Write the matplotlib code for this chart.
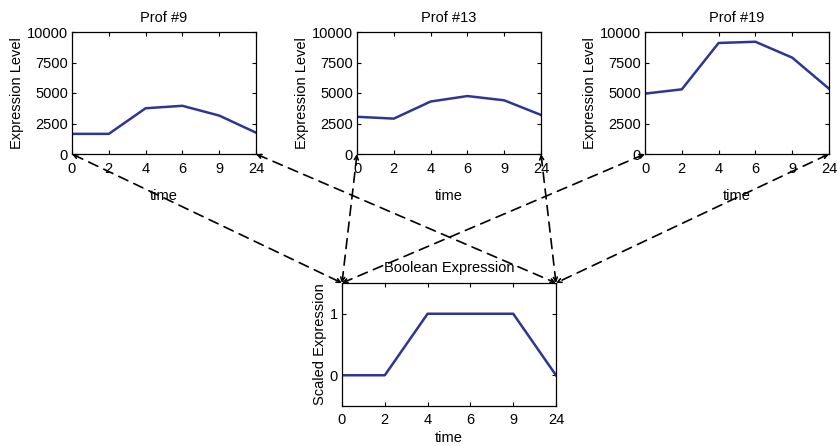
import matplotlib
matplotlib.use("Agg")
import matplotlib.pyplot as plt
from matplotlib.patches import ConnectionPatch

plt.rcParams['font.family'] = ['Liberation Sans', 'DejaVu Sans']

time_labels = ["0", "2", "4", "6", "9", "24"]
prof9 = [1650, 1650, 3750, 3950, 3150, 1750]
prof13 = [3050, 2900, 4300, 4750, 4400, 3200]
prof19 = [4950, 5300, 9100, 9200, 7900, 5350]
boolean = [0, 0, 1, 1, 1, 0]

titles = ["Prof #9", "Prof #13", "Prof #19"]
profiles = [prof9, prof13, prof19]
expr_ticks = [0, 2500, 5000, 7500, 10000]

W, H = 840, 446
LINE = "#2E3592"
FS = 10.5

fig = plt.figure(figsize=(W / 100, H / 100), dpi=100)


def px_axes(left, right, top, bottom):
    return fig.add_axes([left / W, (H - bottom) / H, (right - left) / W, (bottom - top) / H])


def style(ax, xpad):
    ax.tick_params(direction="in", top=True, right=True, length=3, labelsize=FS)
    ax.tick_params(axis="x", pad=xpad)
    ax.tick_params(axis="y", pad=3)
    for s in ax.spines.values():
        s.set_linewidth(0.9)


x = list(range(len(time_labels)))
top_axes = []
for (l, r), title, vals in zip([(72, 256), (357, 541), (645, 829)], titles, profiles):
    ax = px_axes(l, r, 32, 154)
    ax.plot(x, vals, color=LINE, lw=1.8)
    ax.set_xlim(0, 5)
    ax.set_ylim(0, 10000)
    ax.set_xticks(x)
    ax.set_xticklabels(time_labels)
    ax.set_yticks(expr_ticks)
    ax.set_title(title, fontsize=FS, pad=7)
    ax.set_ylabel("Expression Level", fontsize=FS, labelpad=2)
    ax.set_xlabel("time", fontsize=FS, labelpad=9)
    style(ax, 6)
    top_axes.append(ax)

bx = px_axes(342, 556, 283, 406)
bx.plot(x, boolean, color=LINE, lw=1.8)
bx.set_xlim(0, 5)
bx.set_ylim(-0.5, 1.5)
bx.set_xticks(x)
bx.set_xticklabels(time_labels)
bx.set_yticks([0, 1])
bx.set_title("Boolean Expression", fontsize=FS, pad=8)
bx.set_ylabel("Scaled Expression", fontsize=FS, labelpad=2)
bx.set_xlabel("time", fontsize=FS, labelpad=3)
style(bx, 5)

# dashed connectors from each profile's bottom corners to the boolean panel's top corners
for ax in top_axes:
    for xa, xb in [(0, 0), (1, 1)]:
        con = ConnectionPatch(xyA=(xa, 0), coordsA=ax.transAxes,
                              xyB=(xb, 1), coordsB=bx.transAxes,
                              arrowstyle="<->", mutation_scale=7,
                              linestyle=(0, (6, 4)), linewidth=1.2,
                              color="black", shrinkA=0, shrinkB=0)
        fig.add_artist(con)

fig.savefig("out.png", dpi=100)
